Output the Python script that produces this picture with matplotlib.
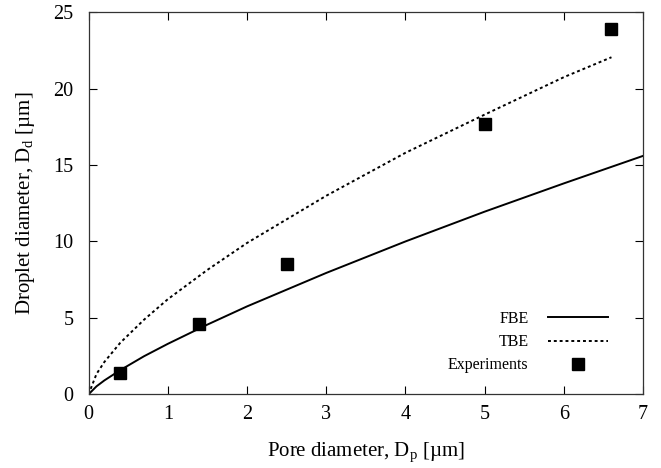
import matplotlib
matplotlib.use("Agg")
import matplotlib.pyplot as plt

plt.rcParams['font.family'] = ['Liberation Serif', 'DejaVu Serif']
plt.rcParams['mathtext.fontset'] = 'custom'
plt.rcParams['mathtext.rm'] = 'Liberation Serif'

# FBE model curve
fbe_x = [0, 0.1, 0.2, 0.4, 0.7, 1.0, 1.5, 2.0, 3.0, 4.0, 5.0, 6.0, 7.0]
fbe_y = [0, 0.52, 0.91, 1.58, 2.49, 3.3, 4.56, 5.75, 7.94, 10.0, 11.95, 13.8, 15.6]

# TBE model curve
tbe_x = [0, 0.1, 0.2, 0.4, 0.7, 1.0, 1.5, 2.0, 3.0, 4.0, 5.0, 6.0, 6.6]
tbe_y = [0, 1.33, 2.12, 3.37, 4.88, 6.22, 8.14, 9.9, 12.99, 15.8, 18.3, 20.75, 22.05]

# Experiments
exp_x = [0.4, 1.4, 2.5, 5.0, 6.6]
exp_y = [1.4, 4.6, 8.5, 17.7, 23.9]

fig = plt.figure(figsize=(6.61, 4.68), dpi=100)
ax = fig.add_axes([0.134, 0.1575, 0.839, 0.8165])

ax.plot(fbe_x, fbe_y, color='black', lw=1.4, label='FBE')
ax.plot(tbe_x, tbe_y, color='black', lw=1.4, linestyle=(0, (1.5, 1.5)), label='TBE')
ax.plot(exp_x, exp_y, 's', color='black', markersize=8.4, linestyle='none', label='Experiments')

ax.set_xlim(0, 7)
ax.set_ylim(0, 25)
ax.set_xticks(range(0, 8))
ax.set_yticks(range(0, 26, 5))
ax.tick_params(direction='in', top=True, right=True, length=6, width=0.8,
               labelsize=14.5, colors='black')
ax.tick_params(axis='x', pad=8)
ax.tick_params(axis='y', pad=11)
for s in ax.spines.values():
    s.set_linewidth(0.9)
    s.set_color('#333333')

ax.set_xlabel('Pore diameter, D$_\\mathregular{p}$ [µm]', fontsize=15, labelpad=12)
ax.set_ylabel('Droplet diameter, D$_\\mathregular{d}$ [µm]', fontsize=15, labelpad=12)

ax.legend(loc='lower right', markerfirst=False, frameon=False, fontsize=11.5,
          handlelength=3.8, labelspacing=0.45, handletextpad=1.2,
          bbox_to_anchor=(0.963, 0.017))

fig.savefig('out.png', dpi=100)
